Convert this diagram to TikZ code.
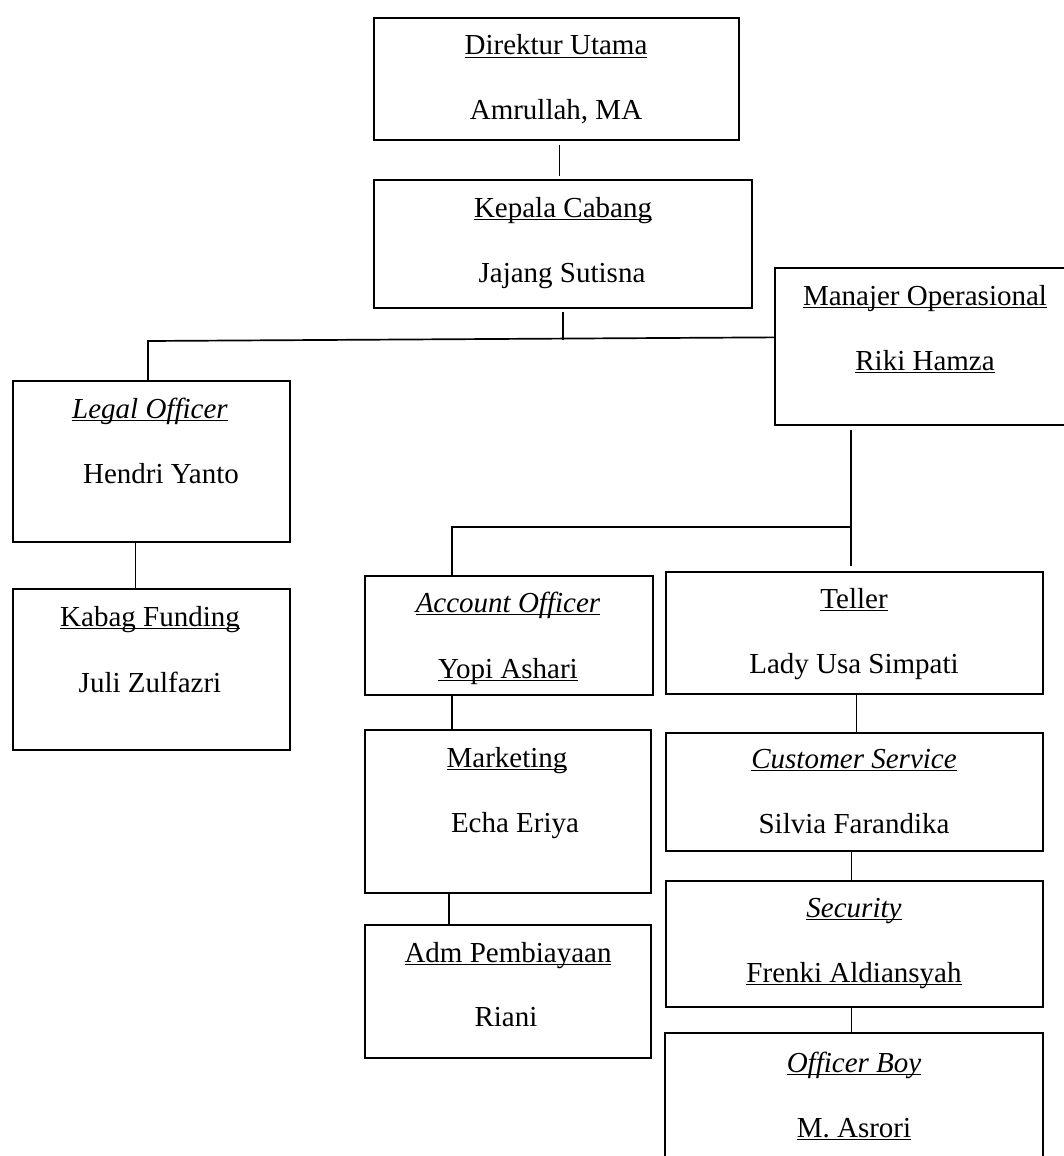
\documentclass[tikz,border=0pt]{standalone}
\usepackage{fontspec}
\setmainfont{Liberation Serif}
\usetikzlibrary{positioning}
\newcommand{\ulbox}[1]{\setbox0\hbox{#1}\rlap{\rule[-0.12em]{\wd0}{0.06em}}\box0}

\begin{document}
\begin{tikzpicture}[x=1pt, y=-1pt,
    box/.style={draw, line width=1.7pt, inner sep=0pt, anchor=north west},
    lbl/.style={anchor=base, inner sep=0pt, font=\fontsize{29}{34}\selectfont},
    link/.style={line width=1.7pt}]
    \useasboundingbox (0,0) rectangle (1064,1156);
    \clip (0,0) rectangle (1064,1156);

    % Direktur Utama
    \node[box, minimum width=365pt, minimum height=122pt] (dir) at (373,17) {};
    \node[lbl] (dirT) at (556,55) {\ulbox{Direktur Utama}};
    \node[lbl] (dirN) at (556,119) {Amrullah, MA};
    % Kepala Cabang
    \node[box, minimum width=378pt, minimum height=128pt] (kep) at (373,179) {};
    \node[lbl] (kepT) at (563,217) {\ulbox{Kepala Cabang}};
    \node[lbl] (kepN) at (562,282) {Jajang Sutisna};
    % Manajer Operasional
    \node[box, minimum width=294pt, minimum height=157pt] (man) at (774,267) {};
    \node[lbl] (manT) at (925,305) {\ulbox{Manajer Operasional}};
    \node[lbl] (manN) at (925,370) {\ulbox{Riki Hamza}};
    % Legal Officer
    \node[box, minimum width=277pt, minimum height=161pt] (leg) at (12,380) {};
    \node[lbl] (legT) at (150,418) {\ulbox{\textit{Legal Officer}}};
    \node[lbl] (legN) at (161,483) {Hendri Yanto};
    % Kabag Funding
    \node[box, minimum width=277pt, minimum height=161pt] (kab) at (12,588) {};
    \node[lbl] (kabT) at (150,626) {\ulbox{Kabag Funding}};
    \node[lbl] (kabN) at (150,692) {Juli Zulfazri};
    % Account Officer
    \node[box, minimum width=288pt, minimum height=119pt] (acc) at (364,575) {};
    \node[lbl] (accT) at (508,612) {\ulbox{\textit{Account Officer}}};
    \node[lbl] (accN) at (508,678) {\ulbox{Yopi Ashari}};
    % Teller
    \node[box, minimum width=377pt, minimum height=122pt] (tel) at (665,571) {};
    \node[lbl] (telT) at (854,608) {\ulbox{Teller}};
    \node[lbl] (telN) at (854,673) {Lady Usa Simpati};
    % Marketing
    \node[box, minimum width=286pt, minimum height=163pt] (mkt) at (364,729) {};
    \node[lbl] (mktT) at (507,767) {\ulbox{Marketing}};
    \node[lbl] (mktN) at (515,832) {Echa Eriya};
    % Adm Pembiayaan
    \node[box, minimum width=286pt, minimum height=133pt] (adm) at (364,924) {};
    \node[lbl] (admT) at (508,962) {\ulbox{Adm Pembiayaan}};
    \node[lbl] (admN) at (506,1026) {Riani};
    % Customer Service
    \node[box, minimum width=377pt, minimum height=118pt] (cs) at (665,732) {};
    \node[lbl] (csT) at (854,768) {\ulbox{\textit{Customer Service}}};
    \node[lbl] (csN) at (854,833) {Silvia Farandika};
    % Security
    \node[box, minimum width=377pt, minimum height=126pt] (sec) at (665,880) {};
    \node[lbl] (secT) at (854,917) {\ulbox{\textit{Security}}};
    \node[lbl] (secN) at (854,982) {\ulbox{Frenki Aldiansyah}};
    % Officer Boy
    \node[box, minimum width=378pt, minimum height=140pt] (ob) at (664,1032) {};
    \node[lbl] (obT) at (854,1072) {\ulbox{\textit{Officer Boy}}};
    \node[lbl] (obN) at (854,1137) {\ulbox{M. Asrori}};

    % top chain
    \coordinate (jk) at ([yshift=-31pt]kep.south);
    \coordinate (jl) at (148,341);
    \draw[link] ([xshift=3pt,yshift=-4pt]dir.south) -- ++(0,31);
    \draw[link] ([yshift=-3pt]kep.south) -- (jk);
    \draw[link] (leg.north -| jl) -- (jl) -- ([yshift=9pt]man.west);
    \draw[link] ([xshift=-16pt]leg.south) -- ([xshift=-16pt]kab.north);

    % operations branch
    \coordinate (jm) at (851,527);
    \coordinate (ja) at (452,527);
    \draw[link] (jm |- man.south) ++(0,4) -- ++(0,136);
    \draw[link] (jm) -- (ja) -- (ja |- acc.north);
    \draw[link] (ja |- acc.south) -- (ja |- mkt.north);
    \draw[link] ([xshift=-59pt]mkt.south) -- ([xshift=-59pt]adm.north);
    \draw[link] ([xshift=2pt]tel.south) -- ([xshift=2pt]cs.north);
    \draw[link] ([xshift=-3pt]cs.south) -- ([xshift=-3pt]sec.north);
    \draw[link] ([xshift=-3pt]sec.south) -- ([xshift=-3pt]sec.south |- ob.north);
\end{tikzpicture}
\end{document}
